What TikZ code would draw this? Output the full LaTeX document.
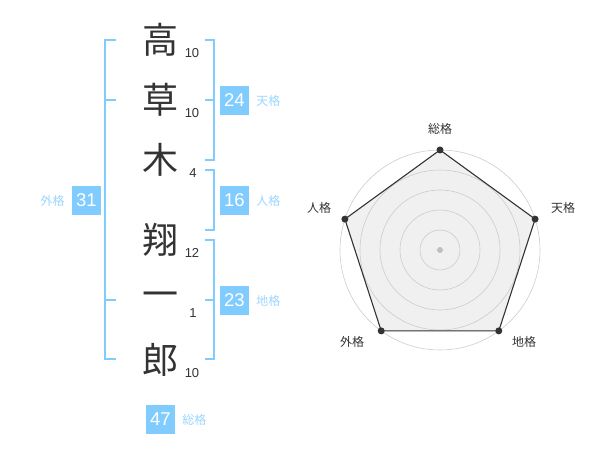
\documentclass[tikz,border=0pt]{standalone}
\usepackage{fontspec}
\setmainfont{Liberation Sans}
\newfontfamily\jpfont{Noto Sans CJK JP}
\usetikzlibrary{positioning,calc}
\definecolor{kakublue}{HTML}{80CCFF}
\definecolor{kakulabel}{HTML}{9AD6FF}
\definecolor{inkgray}{HTML}{333333}
\tikzset {
    kanji/.style={
        font=\fontsize{36}{36}\selectfont\jpfont,
        text=inkgray,
        inner sep=0pt,
    },
    stroke/.style={
        font=\fontsize{13}{13}\selectfont,
        text=inkgray,
        inner sep=0pt,
    },
    score/.style={
        fill=kakublue,
        text=white,
        minimum size=29pt,
        inner sep=0pt,
        font=\fontsize{18.5}{18.5}\selectfont,
    },
    kaku/.style={
        font=\fontsize{12}{12}\selectfont\jpfont,
        text=kakulabel,
        inner sep=0pt,
    },
    axis/.style={
        font=\fontsize{12}{12}\selectfont\jpfont,
        text=inkgray,
        inner sep=0pt,
    },
    bracket/.style={
        draw=kakublue,
        line width=1.6pt,
    },
}

\begin{document}
\begin{tikzpicture}[x=1pt, y=-1pt]
\useasboundingbox (0,0) rectangle (600,470);

% name
\node[kanji] at (160, 40) (k1) {高};
\node[kanji] at (160, 100) (k2) {草};
\node[kanji] at (160, 160) (k3) {木};
\node[kanji] at (160, 240) (k4) {翔};
\node[kanji] at (160, 300) (k5) {一};
\node[kanji] at (160, 360) (k6) {郎};

\node[stroke] at (192, 53) (s1) {10};
\node[stroke] at (192, 113) (s2) {10};
\node[stroke] at (193, 173) (s3) {4};
\node[stroke] at (192, 253) (s4) {12};
\node[stroke] at (193, 313) (s5) {1};
\node[stroke] at (192, 373) (s6) {10};

% brackets
\draw[bracket] (116, 40) -- (105, 40) -- (105, 359) -- (116, 359);
\draw[bracket] (105, 100) -- (116, 100);
\draw[bracket] (105, 300) -- (116, 300);
\draw[bracket] (205, 40) -- (214, 40) -- (214, 160) -- (205, 160);
\draw[bracket] (214, 100) -- (205, 100);
\draw[bracket] (205, 170) -- (214, 170) -- (214, 230) -- (205, 230);
\draw[bracket] (205, 240) -- (214, 240) -- (214, 359) -- (205, 359);
\draw[bracket] (214, 300) -- (205, 300);

% scores
\node[score] at (234.5, 100.5) (ten) {24};
\node[kaku, right=7pt of ten] (tenlabel) {天格};
\node[score] at (234.5, 200.5) (jin) {16};
\node[kaku, right=7pt of jin] (jinlabel) {人格};
\node[score] at (234.5, 300.5) (chi) {23};
\node[kaku, right=7pt of chi] (chilabel) {地格};
\node[score] at (86.5, 200.5) (gai) {31};
\node[kaku, left=7pt of gai] (gailabel) {外格};
\node[score] at (160.5, 419.5) (sou) {47};
\node[kaku, right=7pt of sou] (soulabel) {総格};

% radar
\coordinate (c) at (440, 250);
\foreach \a/\n in {-90/p1, -18/p2, 54/p3, 126/p4, 198/p5}
  \coordinate (\n) at ($(c)+(\a:100)$);
\fill[black!6] (p1) -- (p2) -- (p3) -- (p4) -- (p5) -- cycle;
\foreach \r in {20, 40, 60, 80, 100}
  \draw[black!20, line width=0.6pt] (c) circle (\r);
\fill[black!25] (c) circle (3);
\draw[inkgray, line width=1.1pt] (p1) -- (p2) -- (p3) -- (p4) -- (p5) -- cycle;
\foreach \n in {p1, p2, p3, p4, p5}
  \fill[inkgray] (\n) circle (3.5);

\node[axis] at (440, 129) (sou axis) {総格};
\node[axis] at (563, 208) (ten axis) {天格};
\node[axis] at (524, 342) (chi axis) {地格};
\node[axis] at (352, 342) (gai axis) {外格};
\node[axis] at (319, 208) (jin axis) {人格};
\end{tikzpicture}
\end{document}
